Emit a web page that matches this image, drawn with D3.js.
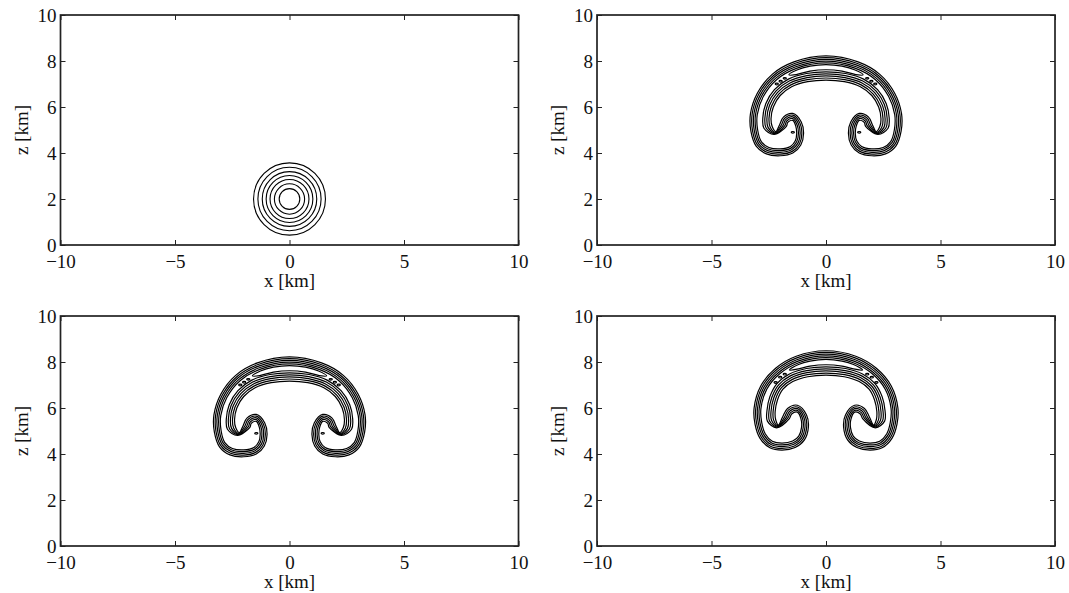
<!DOCTYPE html>
<html>
<head>
<meta charset="utf-8">
<script src="https://cdn.jsdelivr.net/npm/d3@7"></script>
<style>
body { margin: 0; background: #fff; }
svg { display: block; }
svg text { font-family: "Liberation Serif", "Times New Roman", Times, serif; fill: #111; }
</style>
</head>
<body>
<svg width="1069" height="593"></svg>
<script>
const xTicks = [-10, -5, 0, 5, 10]
const zTicks = [0, 2, 4, 6, 8, 10]
const xLabel = "x [km]"
const zLabel = "z [km]"

// panel 1: warm bubble, centre and contour radii in km
const bubbleCenter = [0, 2]
const bubbleRadii = [0.45, 0.66, 0.85, 1.02, 1.19, 1.38, 1.57]

// mushroom contours, left half in km (x, z), from cap top round the lobe to the cap underside
// the plots are symmetric about x = 0, the right half is the mirror
const mushroomA = [
  [[0,8.22],[-1.4,7.96],[-2.35,7.42],[-3.0,6.6],[-3.3,5.7],[-3.28,4.95],[-3.05,4.3],[-2.6,3.96],[-2.0,3.88],[-1.45,4.0],[-1.1,4.35],[-0.98,4.85],[-1.08,5.35],[-1.45,5.72],[-1.85,5.57],[-2.03,5.22],[-2.19,4.93],[-2.35,5.15],[-2.4,5.5],[-2.3,6.0],[-2.0,6.5],[-1.5,6.88],[-0.8,7.1],[0,7.17]],
  [[0,8.145],[-1.373,7.89],[-2.302,7.362],[-2.934,6.564],[-3.225,5.693],[-3.207,4.965],[-2.994,4.35],[-2.574,4.031],[-2.0,3.955],[-1.476,4.071],[-1.16,4.395],[-1.055,4.85],[-1.14,5.305],[-1.45,5.645],[-1.805,5.51],[-1.955,5.205],[-2.21,4.9],[-2.44,5.132],[-2.49,5.505],[-2.383,6.036],[-2.063,6.563],[-1.536,6.963],[-0.814,7.189],[0,7.26]],
  [[0,8.07],[-1.346,7.82],[-2.255,7.304],[-2.868,6.528],[-3.151,5.685],[-3.133,4.98],[-2.937,4.399],[-2.547,4.101],[-2.0,4.03],[-1.503,4.141],[-1.22,4.44],[-1.13,4.85],[-1.2,5.26],[-1.45,5.57],[-1.76,5.45],[-1.88,5.19],[-2.23,4.87],[-2.53,5.114],[-2.58,5.509],[-2.466,6.072],[-2.126,6.626],[-1.572,7.046],[-0.827,7.278],[0,7.35]],
  [[0,7.995],[-1.32,7.75],[-2.207,7.246],[-2.803,6.492],[-3.076,5.678],[-3.06,4.995],[-2.881,4.449],[-2.521,4.172],[-2.0,4.105],[-1.529,4.212],[-1.28,4.485],[-1.205,4.85],[-1.26,5.215],[-1.45,5.495],[-1.715,5.39],[-1.805,5.175],[-2.25,4.84],[-2.62,5.096],[-2.67,5.514],[-2.548,6.108],[-2.189,6.689],[-1.608,7.128],[-0.84,7.367],[0,7.44]],
  [[0,7.92],[-1.293,7.68],[-2.159,7.188],[-2.737,6.456],[-3.002,5.67],[-2.986,5.01],[-2.825,4.498],[-2.495,4.242],[-2.0,4.18],[-1.555,4.282],[-1.34,4.53],[-1.28,4.85],[-1.32,5.17],[-1.45,5.42],[-1.67,5.33],[-1.73,5.16],[-2.27,4.81],[-2.71,5.078],[-2.76,5.518],[-2.631,6.144],[-2.252,6.752],[-1.644,7.211],[-0.854,7.456],[0,7.53]]
]
const ridgeA = [[0,7.845],[-0.7,7.778],[-1.27,7.61],[-1.62,7.4],[-1.3,7.41],[-0.7,7.56],[0,7.62]]
const dotsA = [[-1.8,7.245],[-1.98,7.12],[-2.15,7.0],[-1.45,4.9]]

const mushroomB = [
  [[0,8.49],[-1.3,8.25],[-2.2,7.73],[-2.85,6.96],[-3.14,6.0],[-3.1,5.3],[-2.88,4.68],[-2.45,4.27],[-1.92,4.17],[-1.35,4.28],[-0.95,4.6],[-0.77,5.15],[-0.85,5.7],[-1.25,6.12],[-1.68,5.98],[-1.9,5.6],[-2.08,5.26],[-2.2,5.5],[-2.22,5.85],[-2.12,6.35],[-1.88,6.82],[-1.45,7.15],[-0.8,7.36],[0,7.43]],
  [[0,8.415],[-1.273,8.18],[-2.152,7.672],[-2.784,6.924],[-3.065,5.993],[-3.027,5.315],[-2.824,4.73],[-2.424,4.341],[-1.92,4.245],[-1.376,4.351],[-1.01,4.645],[-0.845,5.15],[-0.91,5.655],[-1.25,6.045],[-1.635,5.92],[-1.825,5.585],[-2.1,5.23],[-2.29,5.482],[-2.31,5.855],[-2.203,6.386],[-1.943,6.883],[-1.486,7.233],[-0.814,7.449],[0,7.52]],
  [[0,8.34],[-1.246,8.11],[-2.105,7.614],[-2.718,6.888],[-2.991,5.985],[-2.953,5.33],[-2.767,4.779],[-2.397,4.411],[-1.92,4.32],[-1.403,4.421],[-1.07,4.69],[-0.92,5.15],[-0.97,5.61],[-1.25,5.97],[-1.59,5.86],[-1.75,5.57],[-2.12,5.2],[-2.38,5.464],[-2.4,5.859],[-2.286,6.422],[-2.006,6.946],[-1.522,7.316],[-0.827,7.538],[0,7.61]],
  [[0,8.265],[-1.22,8.04],[-2.057,7.556],[-2.653,6.852],[-2.916,5.978],[-2.88,5.345],[-2.711,4.829],[-2.371,4.482],[-1.92,4.395],[-1.429,4.492],[-1.13,4.735],[-0.995,5.15],[-1.03,5.565],[-1.25,5.895],[-1.545,5.8],[-1.675,5.555],[-2.14,5.17],[-2.47,5.446],[-2.49,5.864],[-2.368,6.458],[-2.069,7.009],[-1.558,7.398],[-0.84,7.627],[0,7.7]],
  [[0,8.19],[-1.193,7.97],[-2.009,7.498],[-2.587,6.816],[-2.842,5.97],[-2.806,5.36],[-2.655,4.878],[-2.345,4.552],[-1.92,4.47],[-1.455,4.562],[-1.19,4.78],[-1.07,5.15],[-1.09,5.52],[-1.25,5.82],[-1.5,5.74],[-1.6,5.54],[-2.16,5.14],[-2.56,5.428],[-2.58,5.868],[-2.451,6.494],[-2.132,7.072],[-1.594,7.481],[-0.854,7.716],[0,7.79]]
]
const ridgeB = [[0,8.115],[-0.7,8.04],[-1.2,7.89],[-1.6,7.65],[-1.2,7.7],[-0.7,7.82],[0,7.88]]
const dotsB = [[-1.8,7.47],[-2.0,7.34],[-2.2,7.11]]

const svg = d3.select("svg")
const pw = 458, ph = 230
const cols = [60.5, 597]
const rows = [15, 316]
const serif = "'Liberation Serif', 'Times New Roman', Times, serif"

const panels = [
  {col: 0, row: 0, bubble: true},
  {col: 1, row: 0, contours: mushroomA, ridge: ridgeA, dots: dotsA},
  {col: 0, row: 1, contours: mushroomA, ridge: ridgeA, dots: dotsA},
  {col: 1, row: 1, contours: mushroomB, ridge: ridgeB, dots: dotsB}
]

const fmt = d => d < 0 ? "\u2212" + (-d) : String(d)
const mirrored = half => half.concat(half.slice(1, -1).reverse().map(p => [-p[0], p[1]]))

panels.forEach(p => {
  const g = svg.append("g")
    .attr("transform", `translate(${cols[p.col]}, ${rows[p.row]})`)

  const xScale = d3.scaleLinear().domain([-10, 10]).range([0, pw])
  const yScale = d3.scaleLinear().domain([0, 10]).range([ph, 0])

  const line = d3.line()
    .x(d => xScale(d[0]))
    .y(d => yScale(d[1]))
    .curve(d3.curveCatmullRomClosed.alpha(0.5))

  const marks = g.append("g")
    .attr("fill", "none")
    .attr("stroke", "#000")
    .attr("stroke-width", 1.2)

  if (p.bubble) {
    marks.selectAll("ellipse").data(bubbleRadii)
      .enter().append("ellipse")
      .attr("stroke-width", 1.1)
      .attr("cx", xScale(bubbleCenter[0]))
      .attr("cy", yScale(bubbleCenter[1]))
      .attr("rx", r => xScale(r) - xScale(0))
      .attr("ry", r => yScale(0) - yScale(r))
  } else {
    marks.selectAll("path.c").data(p.contours.concat([p.ridge]))
      .enter().append("path")
      .attr("class", "c")
      .attr("d", d => line(mirrored(d)))

    const dots = p.dots.concat(p.dots.map(d => [-d[0], d[1]]))
    marks.selectAll("ellipse").data(dots)
      .enter().append("ellipse")
      .attr("cx", d => xScale(d[0]))
      .attr("cy", d => yScale(d[1]))
      .attr("rx", xScale(0.07) - xScale(0))
      .attr("ry", yScale(0) - yScale(0.035))
  }

  const xAxisG = g.append("g")
    .attr("transform", `translate(0, ${ph})`)
    .call(d3.axisBottom(xScale).tickValues(xTicks).tickSizeInner(-5).tickSizeOuter(0).tickPadding(10).tickFormat(fmt))
  const xTopG = g.append("g")
    .call(d3.axisTop(xScale).tickValues(xTicks).tickSizeInner(-5).tickSizeOuter(0).tickFormat(""))
  const yAxisG = g.append("g")
    .call(d3.axisLeft(yScale).tickValues(zTicks).tickSizeInner(-5).tickSizeOuter(0).tickPadding(4).tickFormat(fmt))
  const yRightG = g.append("g")
    .attr("transform", `translate(${pw}, 0)`)
    .call(d3.axisRight(yScale).tickValues(zTicks).tickSizeInner(-5).tickSizeOuter(0).tickFormat(""))

  ;[xAxisG, xTopG, yAxisG, yRightG].forEach(a => {
    a.attr("font-family", serif)
    a.selectAll(".domain").remove()
    a.selectAll(".tick line").attr("stroke", "#222").attr("stroke-width", 1)
    a.selectAll("text").attr("font-size", 19).attr("fill", "#111")
      .attr("font-family", serif)
  })
  yAxisG.selectAll("text").attr("dy", "0.34em")

  g.append("rect")
    .attr("width", pw)
    .attr("height", ph)
    .attr("fill", "none")
    .attr("stroke", "#222")
    .attr("stroke-width", 1.7)

  g.append("text")
    .attr("x", pw / 2)
    .attr("y", ph + 42)
    .attr("text-anchor", "middle")
    .attr("font-size", 19)
    .attr("font-family", serif)
    .text(xLabel)

  g.append("text")
    .attr("transform", `translate(-33, ${ph / 2}) rotate(-90)`)
    .attr("text-anchor", "middle")
    .attr("font-size", 19)
    .attr("font-family", serif)
    .text(zLabel)
})
</script>
</body>
</html>
